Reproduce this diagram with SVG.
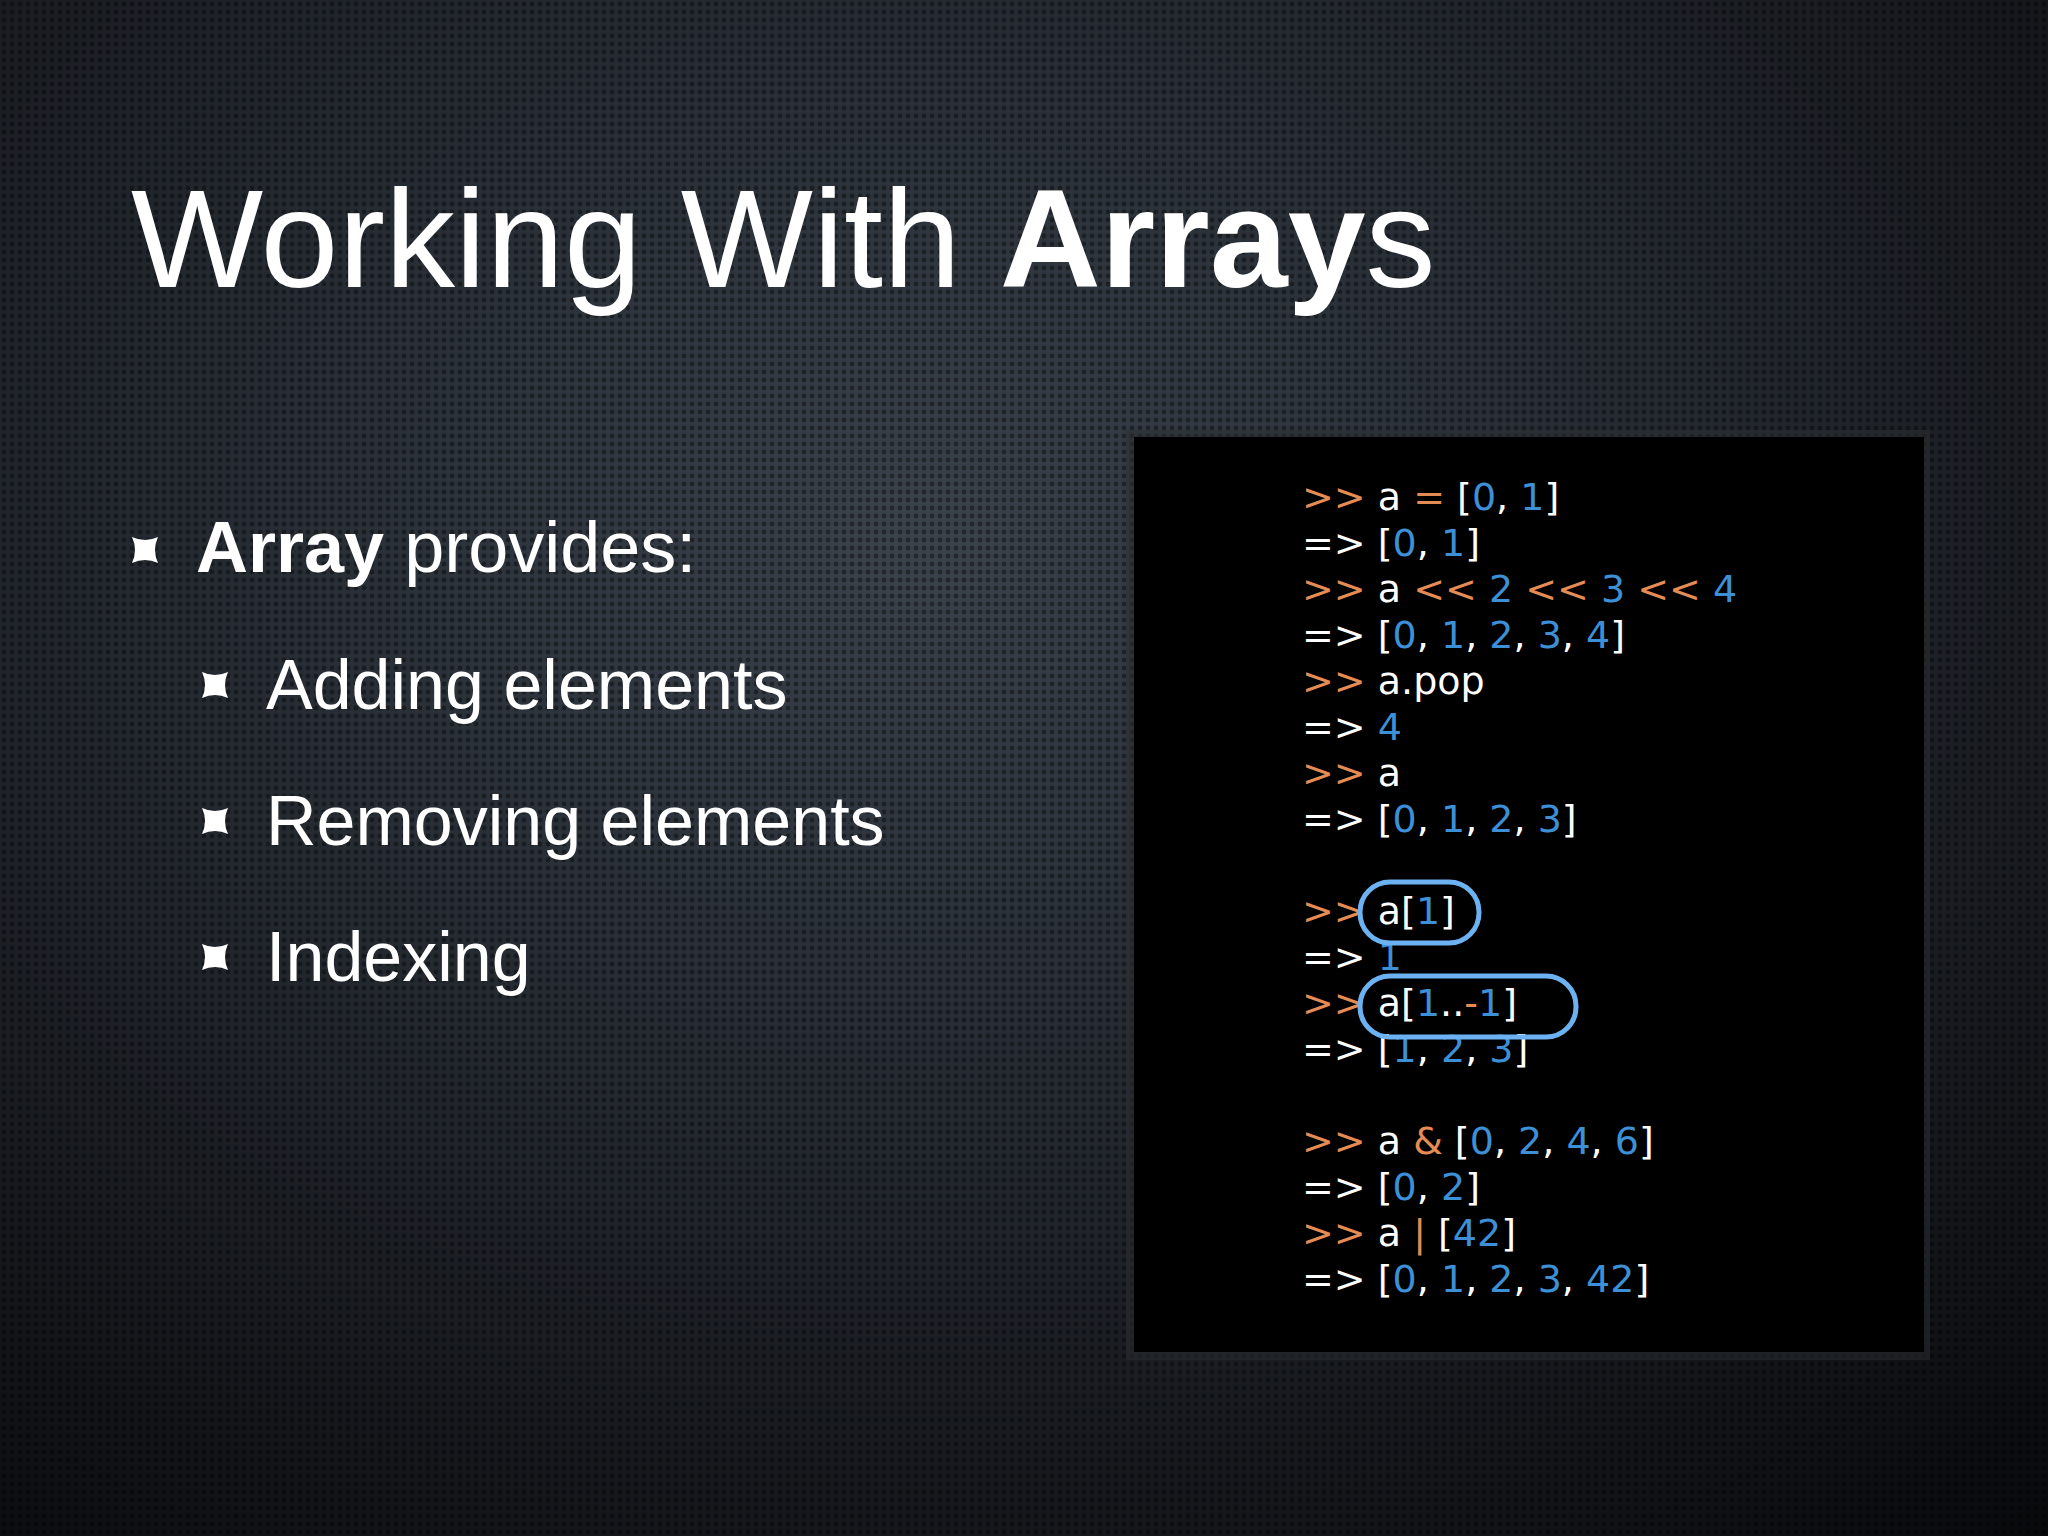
<svg xmlns="http://www.w3.org/2000/svg" width="2048" height="1536" viewBox="0 0 2048 1536">
<defs>
<radialGradient id="bg" cx="0.45" cy="0.35" r="0.85">
<stop offset="0" stop-color="#3a424c"/><stop offset="0.6" stop-color="#1c2026"/><stop offset="1" stop-color="#08090b"/>
</radialGradient>
<pattern id="dots" width="8" height="8" patternUnits="userSpaceOnUse">
<circle cx="4" cy="4" r="2.4" fill="#000" opacity="0.4"/>
</pattern>
<path id="bul" d="M-13,-13 Q0,-7 13,-13 Q7,0 13,13 Q0,7 -13,13 Q-7,0 -13,-13Z" fill="#fff"/>
<style>
.t{font-family:"Liberation Sans",Arial,sans-serif;fill:#fff}
.c{font-family:"DejaVu Sans","Liberation Sans",sans-serif;font-size:38px;fill:#fff}
.o{fill:#e58c54}.b{fill:#3d8fd6}
.ring{fill:none;stroke:#6cb2f2;stroke-width:5}
</style>
</defs>
<rect width="2048" height="1536" fill="url(#bg)"/>
<rect width="2048" height="1536" fill="url(#dots)"/>
<text class="t" x="131" y="287" font-size="140"><tspan>Working With </tspan><tspan font-weight="bold">Array</tspan><tspan>s</tspan></text>
<g id="bullets">
<use href="#bul" x="145" y="550"/>
<text class="t" x="196" y="572" font-size="72"><tspan font-weight="bold">Array</tspan> provides:</text>
<use href="#bul" x="215" y="685"/>
<text class="t" x="266" y="709" font-size="70">Adding elements</text>
<use href="#bul" x="215" y="821"/>
<text class="t" x="266" y="845" font-size="70">Removing elements</text>
<use href="#bul" x="215" y="957"/>
<text class="t" x="266" y="981" font-size="70">Indexing</text>
</g>
<g id="panel">
<rect x="1126" y="430" width="804" height="930" fill="#2a2d31" opacity="0.5"/>
<rect x="1134" y="437" width="790" height="915" fill="#000"/>
<g class="c" xml:space="preserve">
<text x="1302" y="510"><tspan class="o">&gt;&gt;</tspan> a <tspan class="o">=</tspan> [<tspan class="b">0</tspan>, <tspan class="b">1</tspan>]</text>
<text x="1302" y="556">=&gt; [<tspan class="b">0</tspan>, <tspan class="b">1</tspan>]</text>
<text x="1302" y="602"><tspan class="o">&gt;&gt;</tspan> a <tspan class="o">&lt;&lt;</tspan> <tspan class="b">2</tspan> <tspan class="o">&lt;&lt;</tspan> <tspan class="b">3</tspan> <tspan class="o">&lt;&lt;</tspan> <tspan class="b">4</tspan></text>
<text x="1302" y="648">=&gt; [<tspan class="b">0</tspan>, <tspan class="b">1</tspan>, <tspan class="b">2</tspan>, <tspan class="b">3</tspan>, <tspan class="b">4</tspan>]</text>
<text x="1302" y="694"><tspan class="o">&gt;&gt;</tspan> a.pop</text>
<text x="1302" y="740">=&gt; <tspan class="b">4</tspan></text>
<text x="1302" y="786"><tspan class="o">&gt;&gt;</tspan> a</text>
<text x="1302" y="832">=&gt; [<tspan class="b">0</tspan>, <tspan class="b">1</tspan>, <tspan class="b">2</tspan>, <tspan class="b">3</tspan>]</text>
<text x="1302" y="924"><tspan class="o">&gt;&gt;</tspan> a[<tspan class="b">1</tspan>]</text>
<text x="1302" y="970">=&gt; <tspan class="b">1</tspan></text>
<text x="1302" y="1016"><tspan class="o">&gt;&gt;</tspan> a[<tspan class="b">1</tspan>..<tspan class="o">-</tspan><tspan class="b">1</tspan>]</text>
<text x="1302" y="1062">=&gt; [<tspan class="b">1</tspan>, <tspan class="b">2</tspan>, <tspan class="b">3</tspan>]</text>
<text x="1302" y="1154"><tspan class="o">&gt;&gt;</tspan> a <tspan class="o">&amp;</tspan> [<tspan class="b">0</tspan>, <tspan class="b">2</tspan>, <tspan class="b">4</tspan>, <tspan class="b">6</tspan>]</text>
<text x="1302" y="1200">=&gt; [<tspan class="b">0</tspan>, <tspan class="b">2</tspan>]</text>
<text x="1302" y="1246"><tspan class="o">&gt;&gt;</tspan> a <tspan class="o">|</tspan> [<tspan class="b">42</tspan>]</text>
<text x="1302" y="1292">=&gt; [<tspan class="b">0</tspan>, <tspan class="b">1</tspan>, <tspan class="b">2</tspan>, <tspan class="b">3</tspan>, <tspan class="b">42</tspan>]</text>
</g>
</g>
<g id="connectors">
<rect class="ring" x="1360" y="882" width="119" height="61" rx="30"/>
<rect class="ring" x="1360" y="976" width="216" height="61" rx="30"/>
</g>
</svg>
